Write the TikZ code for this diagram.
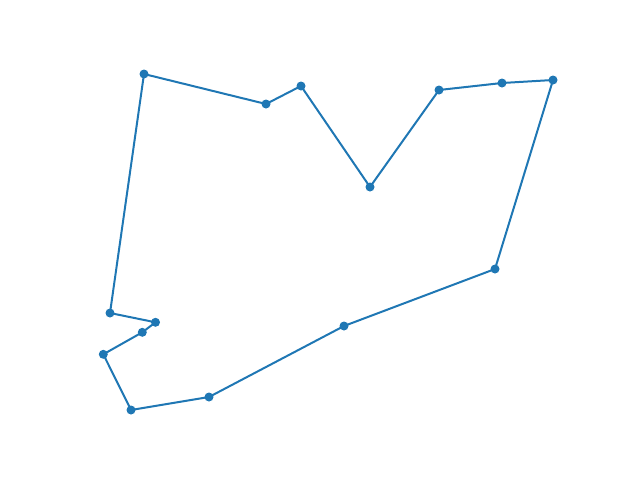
\documentclass[tikz,border=0pt]{standalone}
\definecolor{mplblue}{HTML}{1F77B4}
\tikzset{
  pathline/.style={draw=mplblue, line width=2pt, line join=round, line cap=round},
  pt/.style={circle, fill=mplblue, inner sep=0pt, minimum size=9pt}
}
\begin{document}
\begin{tikzpicture}[x=1pt,y=-1pt]
\useasboundingbox (0,0) rectangle (640,480);
\coordinate (p1) at (144,74);
\coordinate (p2) at (266,104);
\coordinate (p3) at (301,86);
\coordinate (p4) at (370,187);
\coordinate (p5) at (439,90);
\coordinate (p6) at (502,83);
\coordinate (p7) at (553,80);
\coordinate (p8) at (495,269);
\coordinate (p9) at (344,326);
\coordinate (p10) at (209,397);
\coordinate (p11) at (131,410);
\coordinate (p12) at (103.3,354.3);
\coordinate (p13) at (142.3,332.3);
\coordinate (p14) at (155.5,322.3);
\coordinate (p15) at (110,313);
\draw[pathline] (p1) -- (p2) -- (p3) -- (p4) -- (p5) -- (p6) -- (p7) -- (p8) -- (p9) -- (p10) -- (p11) -- (p12) -- (p13) -- (p14) -- (p15) -- cycle;
\foreach \i in {1,...,15} { \node[pt] (n\i) at (p\i) {}; }
\end{tikzpicture}
\end{document}
